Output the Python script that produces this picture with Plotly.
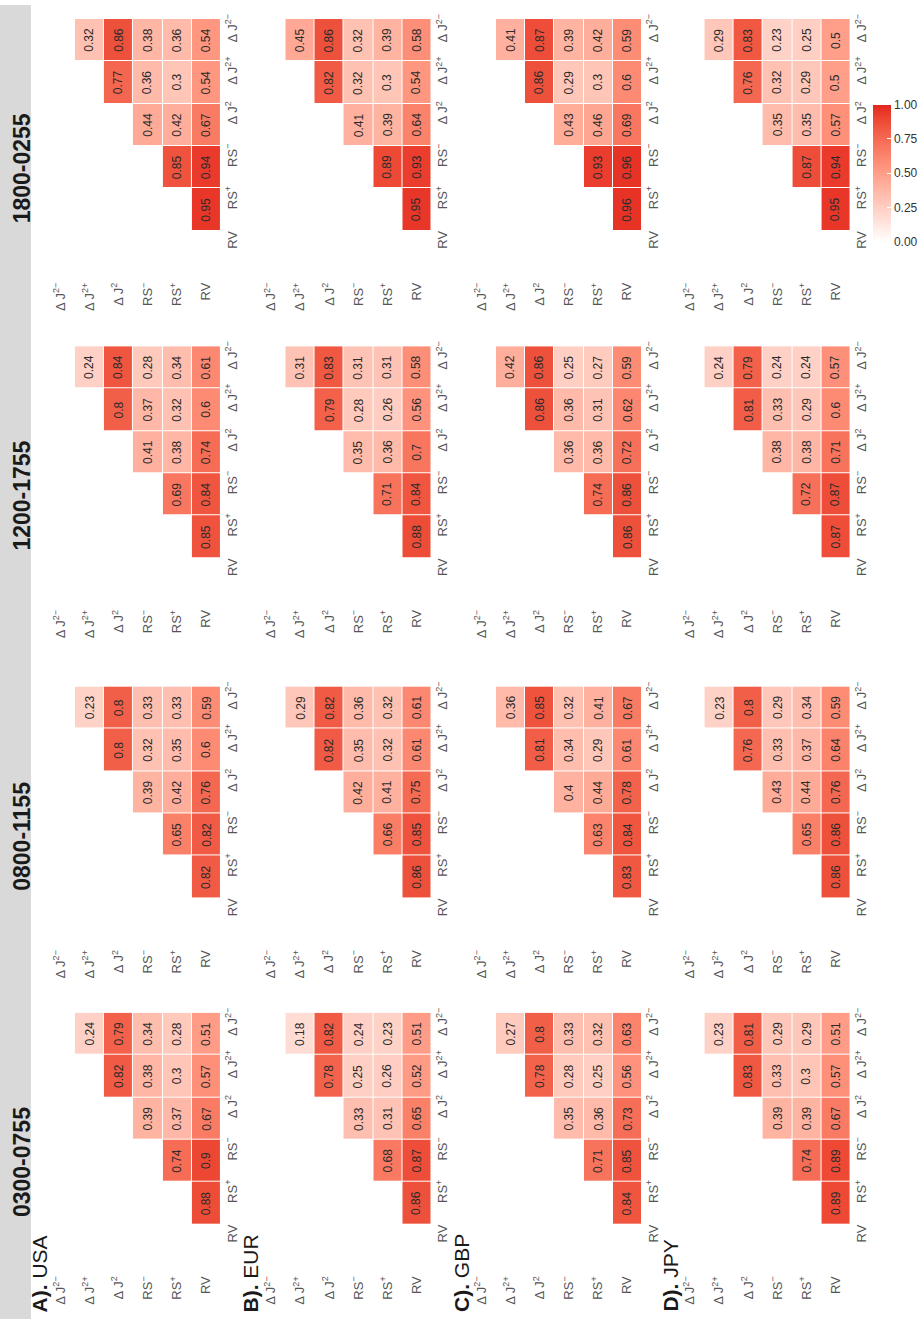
import plotly.graph_objects as go

# Intraday windows, currencies and the six volatility measures
windows = ["0300-0755", "0800-1155", "1200-1755", "1800-0255"]
currencies = ["USA", "EUR", "GBP", "JPY"]
panel_tags = ["A).", "B).", "C).", "D)."]
measure_labels = ["RV", "RS<sup>+</sup>", "RS<sup>\u2212</sup>", "\u0394 J<sup>2</sup>",
                  "\u0394 J<sup>2+</sup>", "\u0394 J<sup>2\u2212</sup>"]

# Correlations per window (same order as `windows`); pair order is
# (RV,RS+) (RV,RS-) (RV,dJ2) (RV,dJ2+) (RV,dJ2-) (RS+,RS-) (RS+,dJ2) (RS+,dJ2+) (RS+,dJ2-)
# (RS-,dJ2) (RS-,dJ2+) (RS-,dJ2-) (dJ2,dJ2+) (dJ2,dJ2-) (dJ2+,dJ2-)
usa = [
    [0.88, 0.90, 0.67, 0.57, 0.51, 0.74, 0.37, 0.30, 0.28, 0.39, 0.38, 0.34, 0.82, 0.79, 0.24],
    [0.82, 0.82, 0.76, 0.60, 0.59, 0.65, 0.42, 0.35, 0.33, 0.39, 0.32, 0.33, 0.80, 0.80, 0.23],
    [0.85, 0.84, 0.74, 0.60, 0.61, 0.69, 0.38, 0.32, 0.34, 0.41, 0.37, 0.28, 0.80, 0.84, 0.24],
    [0.95, 0.94, 0.67, 0.54, 0.54, 0.85, 0.42, 0.30, 0.36, 0.44, 0.36, 0.38, 0.77, 0.86, 0.32],
]
eur = [
    [0.86, 0.87, 0.65, 0.52, 0.51, 0.68, 0.31, 0.26, 0.23, 0.33, 0.25, 0.24, 0.78, 0.82, 0.18],
    [0.86, 0.85, 0.75, 0.61, 0.61, 0.66, 0.41, 0.32, 0.32, 0.42, 0.35, 0.36, 0.82, 0.82, 0.29],
    [0.88, 0.84, 0.70, 0.56, 0.58, 0.71, 0.36, 0.26, 0.31, 0.35, 0.28, 0.31, 0.79, 0.83, 0.31],
    [0.95, 0.93, 0.64, 0.54, 0.58, 0.89, 0.39, 0.30, 0.39, 0.41, 0.32, 0.32, 0.82, 0.86, 0.45],
]
gbp = [
    [0.84, 0.85, 0.73, 0.56, 0.63, 0.71, 0.36, 0.25, 0.32, 0.35, 0.28, 0.33, 0.78, 0.80, 0.27],
    [0.83, 0.84, 0.78, 0.61, 0.67, 0.63, 0.44, 0.29, 0.41, 0.40, 0.34, 0.32, 0.81, 0.85, 0.36],
    [0.86, 0.86, 0.72, 0.62, 0.59, 0.74, 0.36, 0.31, 0.27, 0.36, 0.36, 0.25, 0.86, 0.86, 0.42],
    [0.96, 0.96, 0.69, 0.60, 0.59, 0.93, 0.46, 0.30, 0.42, 0.43, 0.29, 0.39, 0.86, 0.87, 0.41],
]
jpy = [
    [0.89, 0.89, 0.67, 0.57, 0.51, 0.74, 0.39, 0.30, 0.29, 0.39, 0.33, 0.29, 0.83, 0.81, 0.23],
    [0.86, 0.86, 0.76, 0.64, 0.59, 0.65, 0.44, 0.37, 0.34, 0.43, 0.33, 0.29, 0.76, 0.80, 0.23],
    [0.87, 0.87, 0.71, 0.60, 0.57, 0.72, 0.38, 0.29, 0.24, 0.38, 0.33, 0.24, 0.81, 0.79, 0.24],
    [0.95, 0.94, 0.57, 0.50, 0.50, 0.87, 0.35, 0.29, 0.25, 0.35, 0.32, 0.23, 0.76, 0.83, 0.29],
]
corr_by_currency = [usa, eur, gbp, jpy]

# ---- page geometry (pixels) ----
W, H = 922, 1319
CELL_W, CELL_H = 29.2, 42.5
panel_left = [46, 257, 468, 677]          # left edge of each currency panel
window_top = {"1800-0255": 14, "1200-1755": 342.5, "0800-1155": 684, "0300-0755": 1011.5}
FONT = "Liberation Sans"


def px_x(v):
    return v / W


def px_y(v):
    return 1 - v / H


# ---- white -> red colour ramp interpolated in CIELAB ----
def _lin(c):
    c /= 255.0
    return c / 12.92 if c <= 0.04045 else ((c + 0.055) / 1.055) ** 2.4


def _gam(c):
    c = 12.92 * c if c <= 0.0031308 else 1.055 * c ** (1 / 2.4) - 0.055
    return max(0, min(255, round(c * 255)))


def rgb_to_lab(rgb):
    r, g, b = (_lin(v) for v in rgb)
    x = (0.4124 * r + 0.3576 * g + 0.1805 * b) / 0.95047
    y = (0.2126 * r + 0.7152 * g + 0.0722 * b)
    z = (0.0193 * r + 0.1192 * g + 0.9505 * b) / 1.08883
    f = lambda t: t ** (1 / 3) if t > 0.008856 else 7.787 * t + 16 / 116
    fx, fy, fz = f(x), f(y), f(z)
    return 116 * fy - 16, 500 * (fx - fy), 200 * (fy - fz)


def lab_to_rgb(lab):
    L, a, b = lab
    fy = (L + 16) / 116
    fx, fz = fy + a / 500, fy - b / 200
    finv = lambda t: t ** 3 if t ** 3 > 0.008856 else (t - 16 / 116) / 7.787
    x, y, z = finv(fx) * 0.95047, finv(fy), finv(fz) * 1.08883
    r = 3.2406 * x - 1.5372 * y - 0.4986 * z
    g = -0.9689 * x + 1.8758 * y + 0.0415 * z
    bb = 0.0557 * x - 0.2040 * y + 1.0570 * z
    return _gam(r), _gam(g), _gam(bb)


lo, hi = rgb_to_lab((255, 255, 255)), rgb_to_lab((228, 38, 30))
colorscale = []
for i in range(11):
    t = i / 10
    c = lab_to_rgb(tuple(lo[k] + t * (hi[k] - lo[k]) for k in range(3)))
    colorscale.append([t, "rgb(%d,%d,%d)" % c])

# Screen orientation: columns run dJ2- ... RV, rows run RV (bottom) ... dJ2- (top)
x_cats = measure_labels[::-1]
y_cats = measure_labels[:]
pairs = [(i, j) for i in range(6) for j in range(i + 1, 6)]

fig = go.Figure()
annotations = []
layout_axes = {}
tick_font = dict(family=FONT, size=13, color="#555555")

k = 0
for wi, win in enumerate(windows):
    top = window_top[win]
    for ci, cur in enumerate(currencies):
        k += 1
        xref = "x" if k == 1 else f"x{k}"
        yref = "y" if k == 1 else f"y{k}"
        vals = corr_by_currency[ci][wi]
        lookup = {p: v for p, v in zip(pairs, vals)}
        z = []
        for r in range(6):             # row measure index (screen bottom -> top)
            zrow = []
            for c in range(6):         # column position (screen left -> right)
                col_m = 5 - c
                if r > col_m:
                    v = lookup[(col_m, r)]
                    zrow.append(v)
                    annotations.append(dict(
                        x=x_cats[c], y=y_cats[r], xref=xref, yref=yref,
                        text=f"{v:g}", textangle=-90, showarrow=False,
                        font=dict(family=FONT, size=12, color="#2b2b2b")))
                else:
                    zrow.append(None)
            z.append(zrow)
        fig.add_trace(go.Heatmap(
            z=z, x=x_cats, y=y_cats, coloraxis="coloraxis",
            xgap=1, ygap=1, hoverongaps=False, xaxis=xref, yaxis=yref))

        left = panel_left[ci]
        xd = [px_x(left), px_x(left + 6 * CELL_W)]
        yd = [px_y(top + 6 * CELL_H), px_y(top)]
        xname = "xaxis" if k == 1 else f"xaxis{k}"
        yname = "yaxis" if k == 1 else f"yaxis{k}"
        layout_axes[xname] = dict(
            domain=xd, anchor=yref, type="category",
            categoryorder="array", categoryarray=x_cats, range=[-0.5, 5.5],
            showgrid=False, zeroline=False, showline=False, ticks="",
            tickangle=-90, ticklabelstandoff=6, tickfont=tick_font, fixedrange=True)
        layout_axes[yname] = dict(
            domain=yd, anchor=xref, side="right", type="category",
            categoryorder="array", categoryarray=y_cats, range=[-0.5, 5.5],
            showgrid=False, zeroline=False, showline=False, ticks="",
            tickangle=-90, ticklabelshift=-10, ticklabelstandoff=2,
            tickfont=tick_font, fixedrange=True)

# Window headers inside the grey strip
for win in windows:
    annotations.append(dict(
        x=px_x(22), y=px_y(window_top[win] + 150), xref="paper", yref="paper",
        text=f"<b>{win}</b>", textangle=-90, showarrow=False,
        xanchor="center", yanchor="middle",
        font=dict(family=FONT, size=23, color="#1a1a1a")))

# Currency panel titles
for ci, cur in enumerate(currencies):
    annotations.append(dict(
        x=px_x(panel_left[ci] - 6), y=px_y(1314), xref="paper", yref="paper",
        text=f"<b>{panel_tags[ci]}</b> {cur}", textangle=-90, showarrow=False,
        xanchor="center", yanchor="bottom",
        font=dict(family=FONT, size=21, color="#1a1a1a")))

fig.update_layout(
    width=W, height=H,
    margin=dict(l=0, r=0, t=0, b=0),
    paper_bgcolor="white", plot_bgcolor="white",
    showlegend=False,
    font=dict(family=FONT),
    coloraxis=dict(
        cmin=0, cmax=1, colorscale=colorscale,
        colorbar=dict(
            x=px_x(875), xanchor="left", y=px_y(100), yanchor="top",
            len=137, lenmode="pixels", thickness=18, thicknessmode="pixels",
            xpad=0, ypad=0, outlinewidth=0,
            tickvals=[0, 0.25, 0.5, 0.75, 1.0],
            ticktext=["0.00", "0.25", "0.50", "0.75", "1.00"],
            ticks="inside", ticklen=4, tickcolor="white",
            tickfont=dict(family=FONT, size=12, color="#333333"))),
    shapes=[dict(type="rect", xref="paper", yref="paper",
                 x0=0, x1=px_x(31), y0=0, y1=1,
                 fillcolor="#d9d9d9", line=dict(width=0), layer="below")],
    annotations=annotations,
    **layout_axes,
)

fig.write_html("out.html")
